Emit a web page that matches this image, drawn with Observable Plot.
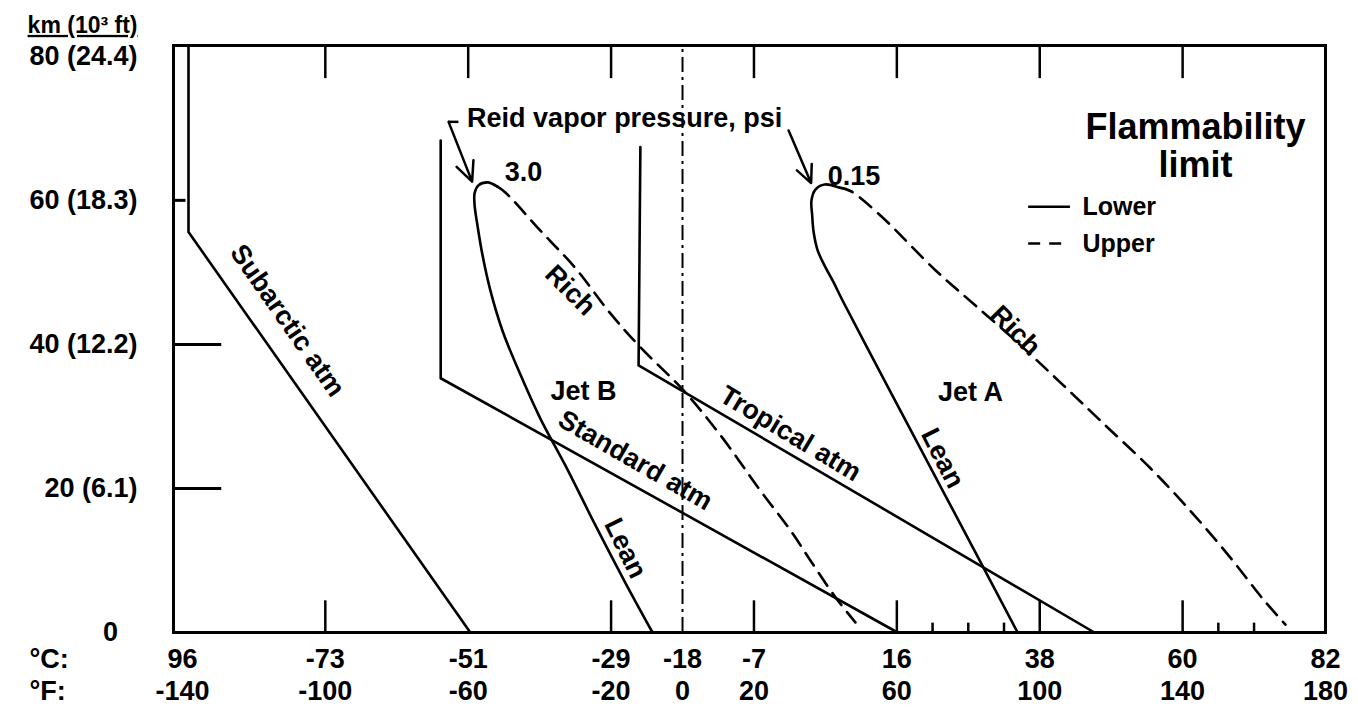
<!DOCTYPE html>
<html><head><meta charset="utf-8">
<script src="https://cdn.jsdelivr.net/npm/d3@7"></script>
<script src="https://cdn.jsdelivr.net/npm/@observablehq/plot@0.6"></script>
<style>body{margin:0;background:#fff;font-family:"Liberation Sans",Arial,sans-serif}</style>
</head><body><div id="chart"></div>
<script>
// ---- axis values ----
const fTicks = [-140, -100, -60, -20, 0, 20, 60, 100, 140, 180];
const cLabels = ["96", "-73", "-51", "-29", "-18", "-7", "16", "38", "60", "82"];
const yTicks = [0, 20, 40, 60, 80];
const yLabels = ["0", "20 (6.1)", "40 (12.2)", "60 (18.3)", "80 (24.4)"];
const topTicks = [-100, -60, -20, 20, 60, 100, 140];
const bottomTicks = [-100, -20, 20, 60, 100, 140];
const minorTicks = [70, 80, 90, 150, 160];
const longLeftTicks = [20, 40];
const shortLeftTicks = [60];

// ---- atmosphere profiles (°F, 10^3 ft) ----
const subarctic = [[-138.3, 81.5], [-138.3, 55.6], [-59.4, 0]];
const standard = [[-67.7, 68.3], [-67.7, 35.3], [60.2, 0]];
const tropical = [[-11.8, 67.4], [-12.3, 37.1], [115.3, 0]];

// ---- flammability limits ----
const jetBLean = [[-51.8, 61.9], [-54.6, 62.5], [-57.1, 62.1], [-58.2, 61.0], [-58.2, 59.3], [-57.4, 56.5], [-56.0, 52.4], [-53.8, 47.5], [-50.4, 41.9], [-45.9, 36.4], [-39.8, 29.7], [-32.8, 23.2], [-24.4, 14.9], [-16.0, 6.9], [-8.4, 0]];
const jetBRich = [[-51.8, 61.9], [-49.6, 61.1], [-39.8, 55.8], [-30.0, 50.6], [-20.2, 44.3], [-11.8, 39.6], [0.3, 33.6], [10.6, 27.4], [21.8, 19.7], [30.2, 14.2], [35.8, 10.0], [42.8, 4.9], [48.4, 1.4]];
const jetALean = [[43.7, 61.8], [39.8, 62.2], [37.2, 61.5], [36.1, 60.0], [36.3, 57.9], [36.7, 55.6], [37.8, 53.1], [39.7, 51.0], [42.3, 48.6], [44.8, 46.1], [54.6, 36.8], [64.4, 27.6], [81.7, 11.4], [93.8, 0]];
const jetARich = [[43.7, 61.8], [47.0, 61.3], [55.4, 57.9], [70.8, 50.3], [82.0, 45.4], [94.6, 39.9], [105.8, 34.7], [117.0, 29.4], [131.0, 22.8], [143.6, 16.1], [154.0, 10.0], [162.4, 4.7], [168.8, 1.1]];

// ---- annotations (data coords) ----
const horizLabels = [
  {t: "Jet B", x: -27.7, y: 33.5},
  {t: "Jet A", x: 80.6, y: 33.3},
  {t: "3.0", x: -44.5, y: 63.9},
  {t: "0.15", x: 48.0, y: 63.3},
  {t: "Reid vapor pressure, psi", x: -16.2, y: 71.4}
];
const titleLabels = [
  {t: "Flammability", x: 143.6, y: 70.1},
  {t: "limit", x: 143.6, y: 64.9}
];
const legendLower = [{t: "Lower", x1: 96.9, x2: 108.6, y: 59.1}];
const legendUpper = [{t: "Upper", x1: 96.9, x2: 108.6, y: 54.0}];
const atmLabels = [
  {t: "Subarctic atm", x: -110.6, y: 43.3, r: 55},
  {t: "Standard atm", x: -13.2, y: 23.9, r: 30},
  {t: "Tropical atm", x: 30.2, y: 27.6, r: 31},
  {t: "Rich", x: -31.4, y: 47.5, r: 45},
  {t: "Rich", x: 93.2, y: 41.9, r: 45},
  {t: "Lean", x: -16.0, y: 11.7, r: 64},
  {t: "Lean", x: 72.8, y: 24.2, r: 63}
];
const arrows = [
  {x1: -65.5, y1: 70.9, x2: -58.9, y2: 62.6},
  {x1: 29.7, y1: 69.7, x2: 36.0, y2: 62.4}
];
const bracket = [{x1: -65.5, x2: -62.6, y: 70.9}];

const toXY = a => a.map(([x, y]) => ({x, y}));
const FS = {fontFamily: "Liberation Sans, Arial, sans-serif", fontWeight: "bold"};
const lw = 2.6;
const AX = 27;

const chart = Plot.plot({
  width: 1358, height: 717,
  marginLeft: 173, marginRight: 33, marginTop: 45, marginBottom: 85,
  x: {domain: [-142.5, 180], axis: null},
  y: {domain: [0, 81.5], axis: null},
  style: {background: "#fff", color: "#000", overflow: "visible"},
  marks: [
    Plot.ruleX([0], {y1: 0, y2: 81.5, strokeWidth: 2, strokeDasharray: "15,5,3,5"}),
    Plot.ruleX(topTicks, {y1: 81.5, y2: 81.5 - 4.6, strokeWidth: 2.5}),
    Plot.ruleX(bottomTicks, {y1: 0, y2: 4.4, strokeWidth: 2.5}),
    Plot.ruleX(minorTicks, {y1: 0, y2: 1.3, strokeWidth: 2.5}),
    Plot.ruleY(longLeftTicks, {x1: -142.5, x2: -129, strokeWidth: 3}),
    Plot.ruleY(shortLeftTicks, {x1: -142.5, x2: -139, strokeWidth: 3}),
    Plot.line(toXY(subarctic), {x: "x", y: "y", strokeWidth: lw}),
    Plot.line(toXY(standard), {x: "x", y: "y", strokeWidth: lw}),
    Plot.line(toXY(tropical), {x: "x", y: "y", strokeWidth: lw}),
    Plot.line(toXY(jetBLean), {x: "x", y: "y", strokeWidth: lw, curve: "catmull-rom"}),
    Plot.line(toXY(jetALean), {x: "x", y: "y", strokeWidth: lw, curve: "catmull-rom"}),
    Plot.line(toXY(jetBRich), {x: "x", y: "y", strokeWidth: lw, curve: "catmull-rom", strokeDasharray: "15,9"}),
    Plot.line(toXY(jetARich), {x: "x", y: "y", strokeWidth: lw, curve: "catmull-rom", strokeDasharray: "15,9"}),
    Plot.frame({strokeWidth: 3}),
    // annotations
    Plot.text(horizLabels, {x: "x", y: "y", text: "t", fontSize: 27, ...FS}),
    Plot.text(titleLabels, {x: "x", y: "y", text: "t", fontSize: 36, ...FS}),
    Plot.ruleY(legendLower, {y: "y", x1: "x1", x2: "x2", strokeWidth: 2.5}),
    Plot.ruleY(legendUpper, {y: "y", x1: "x1", x2: "x2", strokeWidth: 2.5, strokeDasharray: "12,9"}),
    Plot.text(legendLower, {x: "x2", y: "y", text: "t", dx: 12, textAnchor: "start", fontSize: 25, ...FS}),
    Plot.text(legendUpper, {x: "x2", y: "y", text: "t", dx: 12, textAnchor: "start", fontSize: 25, ...FS}),
    ...atmLabels.map(d => Plot.text([d], {x: "x", y: "y", text: "t", rotate: d.r, fontSize: 27, ...FS})),
    Plot.arrow(arrows, {x1: "x1", y1: "y1", x2: "x2", y2: "y2", strokeWidth: 2.5, headLength: 16, headAngle: 50}),
    Plot.ruleY(bracket, {y: "y", x1: "x1", x2: "x2", strokeWidth: 2.5}),
    // axis labels
    Plot.text(fTicks, {x: d => d, y: 0, text: (d, i) => cLabels[i], dy: 27, fontSize: AX, ...FS}),
    Plot.text(fTicks, {x: d => d, y: 0, text: d => String(d), dy: 59, fontSize: AX, ...FS}),
    Plot.text(["°C:"], {x: -142.5, y: 0, text: d => d, dx: -144, dy: 27, textAnchor: "start", fontSize: AX, ...FS}),
    Plot.text(["°F:"], {x: -142.5, y: 0, text: d => d, dx: -144, dy: 59, textAnchor: "start", fontSize: AX, ...FS}),
    Plot.text(yTicks.slice(1), {x: -142.5, y: d => d, text: (d, i) => yLabels[i + 1], dx: -36, textAnchor: "end", fontSize: AX, ...FS}),
    Plot.text(yTicks.slice(0, 1), {x: -142.5, y: d => d, text: (d, i) => yLabels[i], dx: -63, fontSize: AX, ...FS}),
    Plot.text(["km (10³ ft)"], {x: -142.5, y: 81.5, text: d => d, dx: -36, dy: -20, textAnchor: "end", fontSize: 23, ...FS})
  ]
});
document.getElementById("chart").appendChild(chart);
d3.select(chart).selectAll("text").filter(function() { return this.textContent === "km (10³ ft)"; }).style("text-decoration", "underline");
</script>
</body></html>
